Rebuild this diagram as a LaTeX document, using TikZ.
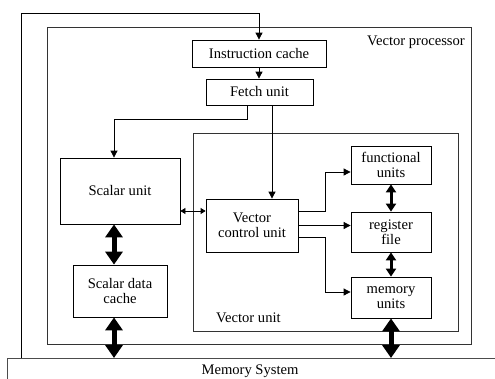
\documentclass[tikz,border=0pt]{standalone}
\usepackage{fontspec}
\setmainfont{Liberation Serif}
\usetikzlibrary{arrows.meta}
\tikzset{
  box/.style={draw, line width=0.8pt, fill=white, align=center, inner sep=1pt, font=\fontsize{14.6}{15.5}\selectfont},
  frame/.style={draw=black!80, line width=0.8pt},
  conn/.style={line width=0.8pt},
  tip/.style={conn, -{Triangle[length=7pt,width=7pt]}},
  dtip/.style={conn, {Triangle[length=5pt,width=6pt]}-{Triangle[length=5pt,width=6pt]}},
  medarrow/.style={line width=3pt, {Triangle[length=8pt,width=10pt]}-{Triangle[length=8pt,width=10pt]}},
  bigarrow/.style={line width=5pt, {Triangle[length=13pt,width=17pt]}-{Triangle[length=13pt,width=17pt]}},
  lbl/.style={font=\fontsize{14.6}{15.5}\selectfont, inner sep=0pt}
}
\begin{document}
\begin{tikzpicture}[x=1pt,y=-1pt]
\useasboundingbox (0,0) rectangle (495,378);
\fill[white] (0,0) rectangle (495,378);
% frames
\draw[frame] (47,27) rectangle (471,344);
\draw[frame] (193,133) rectangle (458,331);
\node[lbl, anchor=east] (vplbl) at (465,42) {Vector processor};
\node[lbl, anchor=west] (vulbl) at (216,318) {Vector unit};
% memory system
\node[draw=black!70, line width=0.8pt, fill=white, minimum width=520pt, minimum height=50pt, anchor=north west, inner sep=0pt] (mem) at (7,358) {};
\node[lbl] (memlbl) at (250,371) {Memory System};
% boxes
\node[box, minimum width=134pt, minimum height=27pt] (ic) at (259,53.5) {Instruction cache};
\node[box, minimum width=107pt, minimum height=26pt] (fu) at (259.5,92) {Fetch unit};
\node[box, minimum width=120pt, minimum height=66pt] (su) at (120,191) {Scalar unit};
\node[box, minimum width=94pt, minimum height=52pt] (sdc) at (120,291) {Scalar data\\cache};
\node[box, minimum width=92pt, minimum height=53pt] (vcu) at (252,225.5) {Vector\\control unit};
\node[box, minimum width=80pt, minimum height=38pt] (fun) at (391,165) {functional\\units};
\node[box, minimum width=80pt, minimum height=40pt] (rf) at (391,232) {register\\file};
\node[box, minimum width=80pt, minimum height=41pt] (mu) at (391,297.5) {memory\\units};
% connectors
\coordinate (tl) at (21,13);
\draw[tip] (tl |- mem.north) -- (tl) -| (ic.north);
\draw[tip] (ic.south) -- (ic.south |- fu.north);
\coordinate (c1) at (114,119);
\draw[tip] ([xshift=-12.5pt]fu.south) |- (c1) -- (c1 |- su.north);
\draw[tip] ([xshift=12.5pt]fu.south) -- ([xshift=12.5pt]fu.south |- vcu.north);
\draw[dtip] ([yshift=-20pt]su.east) -- ([yshift=-20pt]su.east -| vcu.west);
\draw[tip] ([yshift=14.5pt]vcu.east) -- ++(27,0) |- ([yshift=-7pt]fun.west);
\draw[tip] (vcu.east) -- (vcu.east -| rf.west);
\draw[tip] ([yshift=-11.5pt]vcu.east) -- ++(27,0) |- ([yshift=5.5pt]mu.west);
\draw[medarrow] (fun.south) -- (rf.north);
\draw[medarrow] (rf.south) -- (mu.north);
\draw[bigarrow] (mu.south) -- (mu.south |- mem.north);
\draw[bigarrow] ([xshift=-6pt]su.south) -- ([xshift=-6pt]su.south |- sdc.north);
\draw[bigarrow] ([xshift=-6pt]sdc.south) -- ([xshift=-6pt]sdc.south |- mem.north);
\end{tikzpicture}
\end{document}
